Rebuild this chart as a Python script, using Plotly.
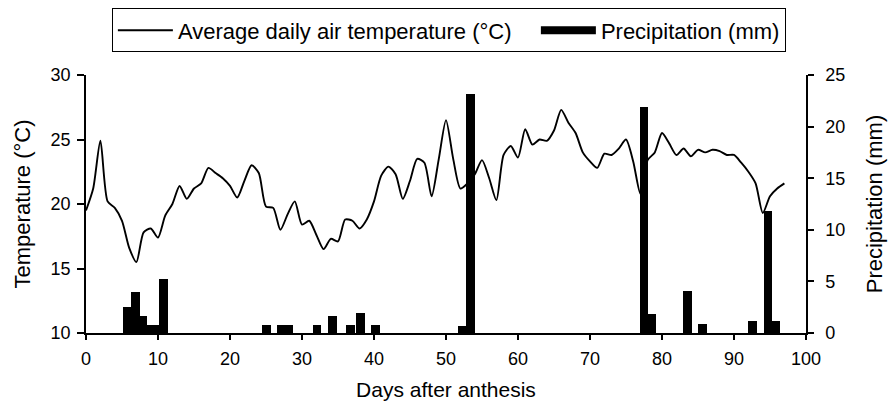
import plotly.graph_objects as go

# ---- data ----
temp_days = list(range(0, 98))
temp_c = [19.5, 21.2, 24.9, 20.2, 19.7, 18.7, 16.6, 15.5, 17.8, 18.1,
          17.4, 19.1, 20.0, 21.4, 20.4, 21.2, 21.6, 22.8, 22.4, 22.0,
          21.4, 20.5, 21.8, 23.0, 22.4, 19.8, 19.7, 18.0, 19.2, 20.2,
          18.4, 18.7, 17.6, 16.5, 17.3, 17.1, 18.8, 18.7, 18.1, 18.8,
          20.2, 22.2, 22.9, 22.3, 20.4, 21.8, 23.5, 23.2, 20.6, 23.5,
          26.5, 23.5, 21.2, 21.6, 22.3, 23.4, 22.0, 20.3, 23.8, 24.5,
          23.6, 25.8, 24.6, 25.0, 24.9, 25.7, 27.3, 26.3, 25.5, 24.0,
          23.3, 22.8, 23.9, 23.8, 24.3, 25.0, 23.3, 20.8, 23.4, 24.0,
          25.5, 24.7, 23.8, 24.3, 23.7, 24.2, 24.0, 24.2, 24.1, 23.8,
          23.8, 23.2, 22.5, 21.6, 19.3, 20.6, 21.2, 21.6]

precip_days = [5.7, 6.9, 7.9, 8.9, 9.6, 10.8, 25.1, 27.1, 28.1, 32.1, 34.2,
               36.7, 38.1, 40.2, 52.3, 53.4, 77.5, 78.6, 83.5, 85.6, 92.6,
               94.7, 95.8]
precip_mm = [2.5, 4.0, 1.6, 0.8, 0.8, 5.2, 0.8, 0.8, 0.8, 0.8, 1.6,
             0.8, 1.9, 0.8, 0.7, 23.2, 21.9, 1.8, 4.1, 0.9, 1.2,
             11.8, 1.2]

x_ticks = list(range(0, 101, 10))
temp_ticks = [10, 15, 20, 25, 30]
precip_ticks = [0, 5, 10, 15, 20, 25]

FONT = "Arial, 'Liberation Sans', Helvetica, sans-serif"

fig = go.Figure()
fig.add_trace(go.Scatter(
    x=temp_days, y=temp_c, mode="lines",
    line=dict(color="black", width=1.9, shape="spline", smoothing=0.7),
    name="Average daily air temperature (°C)", legendwidth=353,
    xaxis="x", yaxis="y"))
fig.add_trace(go.Bar(
    x=precip_days, y=precip_mm, width=1.2,
    marker=dict(color="black", line=dict(width=0)),
    name="Precipitation (mm)", showlegend=False, xaxis="x", yaxis="y2"))
# legend swatch for precipitation (wide black bar)
fig.add_trace(go.Scatter(
    x=[None], y=[None], mode="lines",
    line=dict(color="black", width=8),
    name="Precipitation (mm)", xaxis="x", yaxis="y2"))

axis_common = dict(showgrid=False, zeroline=False, color="black",
                   tickfont=dict(family=FONT, size=18, color="black"))

fig.update_layout(
    width=888, height=404,
    margin=dict(l=86, r=82, t=75, b=71, autoexpand=False),
    paper_bgcolor="white", plot_bgcolor="white",
    font=dict(family=FONT, color="black"),
    bargap=0,
    xaxis=dict(range=[0, 100], tickvals=x_ticks, ticks="outside", ticklen=5,
               tickwidth=1.5, showline=True, linewidth=1.5, linecolor="black",
               ticklabelstandoff=4,
               title=dict(text="Days after anthesis", standoff=14,
                          font=dict(family=FONT, size=21)),
               **axis_common),
    xaxis2=dict(range=[0, 100], tickvals=x_ticks, ticks="inside", ticklen=5,
                tickwidth=1.5, showticklabels=False, showline=False,
                overlaying="x", anchor="y", side="bottom",
                showgrid=False, zeroline=False),
    yaxis=dict(range=[10, 30], tickvals=temp_ticks, ticks="outside", ticklen=7,
               tickwidth=1.5, showline=True, linewidth=1.5, linecolor="black",
               ticklabelstandoff=3,
               title=dict(text="Temperature (°C)", standoff=14,
                          font=dict(family=FONT, size=22)),
               **axis_common),
    yaxis3=dict(range=[10, 30], tickvals=temp_ticks, ticks="inside", ticklen=8,
                tickwidth=1.5, showticklabels=False, showline=False,
                overlaying="y", anchor="x", side="left",
                showgrid=False, zeroline=False),
    yaxis2=dict(range=[0, 25], tickvals=precip_ticks, ticks="outside", ticklen=6,
                tickwidth=1.5, showline=True, linewidth=1.5, linecolor="black",
                overlaying="y", side="right", anchor="x",
                ticklabelstandoff=8,
                title=dict(text="Precipitation (mm)", standoff=22,
                           font=dict(family=FONT, size=22)),
                **axis_common),
    yaxis4=dict(range=[0, 25], tickvals=precip_ticks, ticks="inside", ticklen=7,
                tickwidth=1.5, showticklabels=False, showline=False,
                overlaying="y", anchor="x", side="right",
                showgrid=False, zeroline=False),
    legend=dict(orientation="h", x=0.504, xanchor="center", y=1.258,
                yanchor="top", bordercolor="black", borderwidth=1,
                bgcolor="white", font=dict(family=FONT, size=22),
                itemwidth=55, traceorder="normal"),
    showlegend=True,
)

fig.write_html("out.html",
               config={"displayModeBar": False},
               post_script="document.body.style.margin='0';"
                           "document.body.style.overflow='hidden';")
